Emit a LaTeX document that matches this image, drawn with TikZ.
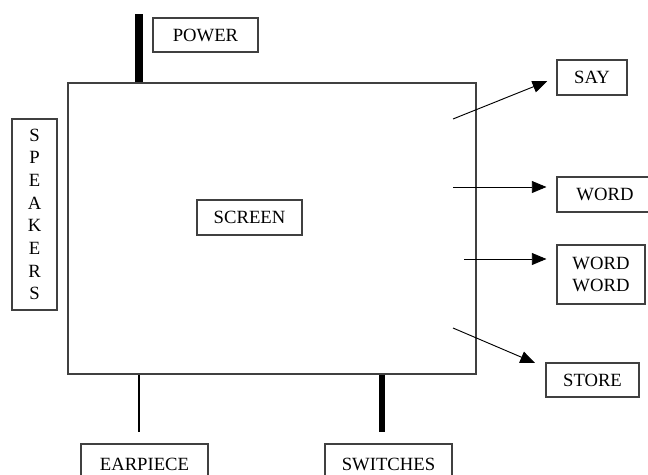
\documentclass[tikz,border=0pt]{standalone}
\usepackage{fontspec}
\setmainfont{Liberation Serif}
\usetikzlibrary{arrows.meta,positioning,calc}

\tikzset{
  part box/.style={draw=black!75, line width=0.8pt, inner sep=0pt, font=\fontsize{14}{17}\selectfont},
  thin line/.style={draw=black, line width=0.8pt},
  fat bar/.style={draw=black, line width=#1},
  out arrow/.style={draw=black, line width=0.7pt, -{Triangle[length=11pt,width=9pt]}, shorten >=7.5pt}
}

\begin{document}
\begin{tikzpicture}[x=0.75pt,y=-0.75pt]
    \useasboundingbox (0,0) rectangle (648,474);
    \clip (0,0) rectangle (648,474);

    % the phone body
    \node[part box, minimum width=306pt, minimum height=218.25pt] (frame) at (272,228.5) {};
    \node[part box, minimum width=78.75pt, minimum height=26.25pt] (screen) at (249.5,217.5) {SCREEN};

    % power on top
    \node[part box, minimum width=78.75pt, minimum height=25.5pt] (power) at (205.5,35) {POWER};
    \coordinate (power top) at (139,14);
    \draw[fat bar=6pt] (power top |- frame.north) -- (power top);

    % speakers on the left
    \node[part box, minimum width=33.75pt, minimum height=143.25pt, align=center] (speakers) at (34.5,214.5)
        {S\\P\\E\\A\\K\\E\\R\\S};

    % outputs on the right
    \node[part box, minimum width=52.5pt, minimum height=26.25pt] (say) at (592,77.5) {SAY};
    \node[part box, minimum width=72pt, minimum height=26.25pt] (word) at (605,194.5) {WORD};
    \node[part box, minimum width=66pt, minimum height=44.25pt, align=center] (word word) at (601,274.5) {WORD\\WORD};
    \node[part box, minimum width=69.75pt, minimum height=25.5pt] (store) at (592.5,380) {STORE};

    \coordinate (say from) at (453,119);
    \coordinate (word from) at (453,187);
    \coordinate (word word from) at (464,259);
    \coordinate (store from) at (453,328);
    \coordinate (store tip) at (535,363);

    \draw[out arrow] (say from) -- (say.west);
    \draw[out arrow] (word from) -- (word from -| word.west);
    \draw[out arrow] (word word from) -- (word word from -| word word.west);
    \draw[out arrow, shorten >=0pt] (store from) -- (store tip);

    % bottom parts
    \node[part box, minimum width=95.25pt, minimum height=30pt] (earpiece) at (144.5,464) {EARPIECE};
    \node[part box, minimum width=95.25pt, minimum height=30pt] (switches) at (388.5,464) {SWITCHES};
    \coordinate (ear end) at (139,432);
    \coordinate (switch end) at (382,432);
    \draw[thin line] (ear end |- frame.south) -- (ear end);
    \draw[fat bar=4.5pt] (switch end |- frame.south) -- (switch end);
\end{tikzpicture}
\end{document}
